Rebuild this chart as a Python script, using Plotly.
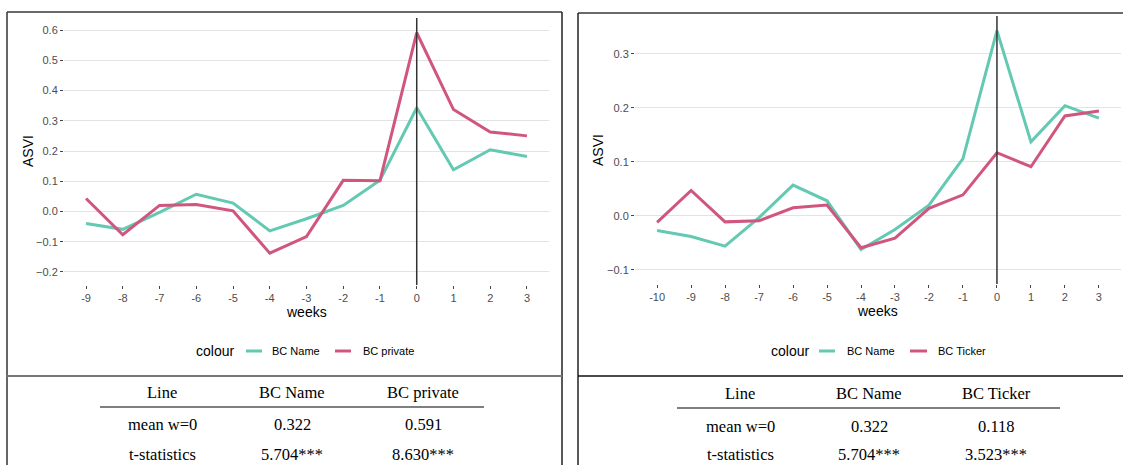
import plotly.graph_objects as go

W, H = 1123, 465

# ---------------- data ----------------
weeks_left = [-9, -8, -7, -6, -5, -4, -3, -2, -1, 0, 1, 2, 3]
bc_name_left = [-0.040, -0.059, -0.003, 0.057, 0.028, -0.064, -0.024, 0.020, 0.103, 0.343, 0.138, 0.204, 0.182]
bc_private = [0.043, -0.077, 0.020, 0.023, 0.002, -0.138, -0.083, 0.103, 0.102, 0.591, 0.337, 0.263, 0.250]

weeks_right = [-10, -9, -8, -7, -6, -5, -4, -3, -2, -1, 0, 1, 2, 3]
bc_name_right = [-0.027, -0.038, -0.056, -0.003, 0.057, 0.028, -0.062, -0.025, 0.020, 0.106, 0.343, 0.137, 0.204, 0.181]
bc_ticker = [-0.012, 0.047, -0.011, -0.009, 0.015, 0.020, -0.059, -0.041, 0.014, 0.039, 0.117, 0.091, 0.185, 0.194]

yticks_left = [-0.2, -0.1, 0.0, 0.1, 0.2, 0.3, 0.4, 0.5, 0.6]
yticks_right = [-0.1, 0.0, 0.1, 0.2, 0.3]

table_header_left = ["Line", "BC Name", "BC private"]
table_rows_left = [["mean w=0", "0.322", "0.591"], ["t-statistics", "5.704***", "8.630***"]]
table_header_right = ["Line", "BC Name", "BC Ticker"]
table_rows_right = [["mean w=0", "0.322", "0.118"], ["t-statistics", "5.704***", "3.523***"]]

TEAL = "#63c9b3"
PINK = "#d0567e"


def px(x):
    return x / W


def py(y):
    return 1 - y / H


fig = go.Figure()
fig.add_trace(go.Scatter(x=weeks_left, y=bc_name_left, mode="lines", line=dict(color=TEAL, width=3),
                         xaxis="x", yaxis="y", name="BC Name", showlegend=False))
fig.add_trace(go.Scatter(x=weeks_left, y=bc_private, mode="lines", line=dict(color=PINK, width=3),
                         xaxis="x", yaxis="y", name="BC private", showlegend=False))
fig.add_trace(go.Scatter(x=weeks_right, y=bc_name_right, mode="lines", line=dict(color=TEAL, width=3),
                         xaxis="x2", yaxis="y2", name="BC Name", showlegend=False))
fig.add_trace(go.Scatter(x=weeks_right, y=bc_ticker, mode="lines", line=dict(color=PINK, width=3),
                         xaxis="x2", yaxis="y2", name="BC Ticker", showlegend=False))

tickfont = dict(family="Liberation Sans, Arial", size=11, color="#4d4d4d")
common_x = dict(showgrid=False, zeroline=False, showline=False, ticks="outside", ticklen=3,
                tickcolor="#444", tickwidth=1, tickfont=tickfont, tickmode="array", ticklabelstandoff=0)
common_y = dict(showgrid=True, gridcolor="#e3e3e3", gridwidth=1, zeroline=False, showline=False,
                ticks="outside", ticklen=3, tickcolor="#444", tickwidth=1, tickfont=tickfont,
                tickmode="array", tickformat=".1f")

fig.update_layout(
    width=W, height=H, margin=dict(l=0, r=0, t=0, b=0),
    paper_bgcolor="white", plot_bgcolor="white",
    xaxis=dict(domain=[px(64), px(549)], range=[-9.6, 3.6], anchor="y",
               tickvals=weeks_left, ticktext=[str(v) for v in weeks_left], **common_x),
    yaxis=dict(domain=[py(285), py(18)], range=[-0.243, 0.6397], anchor="x",
               tickvals=yticks_left, **common_y),
    xaxis2=dict(domain=[px(635), px(1121)], range=[-10.65, 3.65], anchor="y2",
                tickvals=weeks_right, ticktext=[str(v) for v in weeks_right], **common_x),
    yaxis2=dict(domain=[py(284), py(16)], range=[-0.126, 0.370], anchor="x2",
                tickvals=yticks_right, **common_y),
)

shapes = []
# vertical reference lines at week 0
shapes.append(dict(type="line", xref="x", yref="y domain", x0=0, x1=0, y0=0, y1=1,
                   line=dict(color="#333333", width=1.5)))
shapes.append(dict(type="line", xref="x2", yref="y2 domain", x0=0, x1=0, y0=0, y1=1,
                   line=dict(color="#333333", width=1.5)))


def pline(x0, y0, x1, y1, color, width):
    shapes.append(dict(type="line", xref="paper", yref="paper", x0=px(x0), x1=px(x1),
                       y0=py(y0), y1=py(y1), line=dict(color=color, width=width)))


# panel borders
pline(7, 12, 562, 12, "#6a6a6a", 2)
pline(7, 12, 7, 465, "#333333", 1.5)
pline(562, 12, 562, 465, "#222222", 1.5)
pline(7, 376, 562, 376, "#777777", 2)
pline(578, 13, 1123, 13, "#6a6a6a", 2)
pline(578, 13, 578, 465, "#222222", 1.5)
pline(578, 376, 1123, 376, "#111111", 1.5)

# table rules
pline(100, 407, 484, 407, "#555555", 1.5)
pline(677, 408, 1060, 408, "#555555", 1.5)

# legend keys
pline(246, 351, 262, 351, TEAL, 3)
pline(335, 351, 351, 351, PINK, 3)
pline(819, 351, 835, 351, TEAL, 3)
pline(910, 351, 927, 351, PINK, 3)

annotations = []


def text(x, y, s, size=14, family="Liberation Sans, Arial", color="black", xanchor="center", angle=0):
    annotations.append(dict(xref="paper", yref="paper", x=px(x), y=py(y), text=s, showarrow=False,
                            xanchor=xanchor, yanchor="middle", textangle=angle,
                            font=dict(family=family, size=size, color=color)))


# axis titles
text(28, 151, "ASVI", size=14, angle=-90)
text(598, 150, "ASVI", size=14, angle=-90)
text(306, 312, "weeks", size=14)
text(877, 311, "weeks", size=14)

# legends
text(215, 351, "colour", size=14)
text(270, 351, "BC Name", size=11, xanchor="left")
text(361, 351, "BC private", size=11, xanchor="left")
text(790, 351, "colour", size=14)
text(845, 351, "BC Name", size=11, xanchor="left")
text(936, 351, "BC Ticker", size=11, xanchor="left")

# tables
serif = "Liberation Serif, Times New Roman"
FS = 16.5
cols_left = [162, 292, 423]
for c, s in zip(cols_left, table_header_left):
    text(c, 392, s, size=FS, family=serif)
for r, yy in zip(table_rows_left, [424, 454]):
    for c, s in zip(cols_left, r):
        text(c, yy, s, size=FS, family=serif)

cols_right = [740, 869, 996]
for c, s in zip(cols_right, table_header_right):
    text(c, 393, s, size=FS, family=serif)
for r, yy in zip(table_rows_right, [426, 454]):
    for c, s in zip(cols_right, r):
        text(c, yy, s, size=FS, family=serif)

fig.update_layout(shapes=shapes, annotations=annotations)

fig.write_html("out.html")
